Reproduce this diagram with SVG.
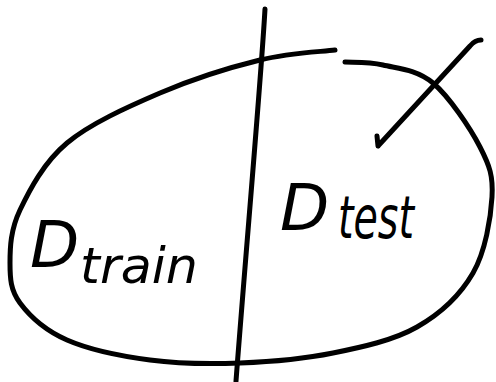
<svg xmlns="http://www.w3.org/2000/svg" width="496" height="382" viewBox="0 0 496 382">
<style>
.ink{fill:none;stroke:#000;stroke-width:5;stroke-linecap:round;stroke-linejoin:round}
.lbl{font-family:"DejaVu Sans",sans-serif;font-style:oblique;fill:#000}
</style>
<rect width="496" height="382" fill="#fff"/>
<g id="set-outline">
<path class="ink" d="M335,50 C320.8,51.8 289.2,52.8 260,60 C230.8,67.2 192.2,79.2 160,93 C127.8,106.8 90.3,123.5 67,143 C43.7,162.5 29.5,190 20,210 C10.5,230 10,247.5 10,263 C10,278.5 10.5,290.2 20,303 C29.5,315.8 45.3,330.5 67,340 C88.7,349.5 121.2,356.2 150,360 C178.8,363.8 209.5,364.2 240,363 C270.5,361.8 303.5,359 333,353 C362.5,347 393.7,340.3 417,327 C440.3,313.7 460.5,294.7 473,273 C485.5,251.3 490.8,218 492,197 C493.2,176 489.8,166 480,147 C470.2,128 449.2,96.7 433,83 C416.8,69.3 397.7,68.5 383,65 C368.3,61.5 352.7,62.5 345,62"/>
</g>
<g id="divider">
<path class="ink" d="M265,9 C261,80 246,250 236,381"/>
</g>
<g id="connectors">
<path class="ink" d="M481,40 Q475,40 470,46 L378,146 M378,146 L377,136"/>
</g>
<g id="d-train">
<text class="lbl" x="30" y="267" font-size="64">D<tspan x="80" y="283" font-size="50" textLength="118" lengthAdjust="spacingAndGlyphs">train</tspan></text>
</g>
<g id="d-test">
<text class="lbl" x="280" y="230" font-size="64">D<tspan x="338" y="238" font-size="58" textLength="76" lengthAdjust="spacingAndGlyphs">test</tspan></text>
</g>
</svg>
